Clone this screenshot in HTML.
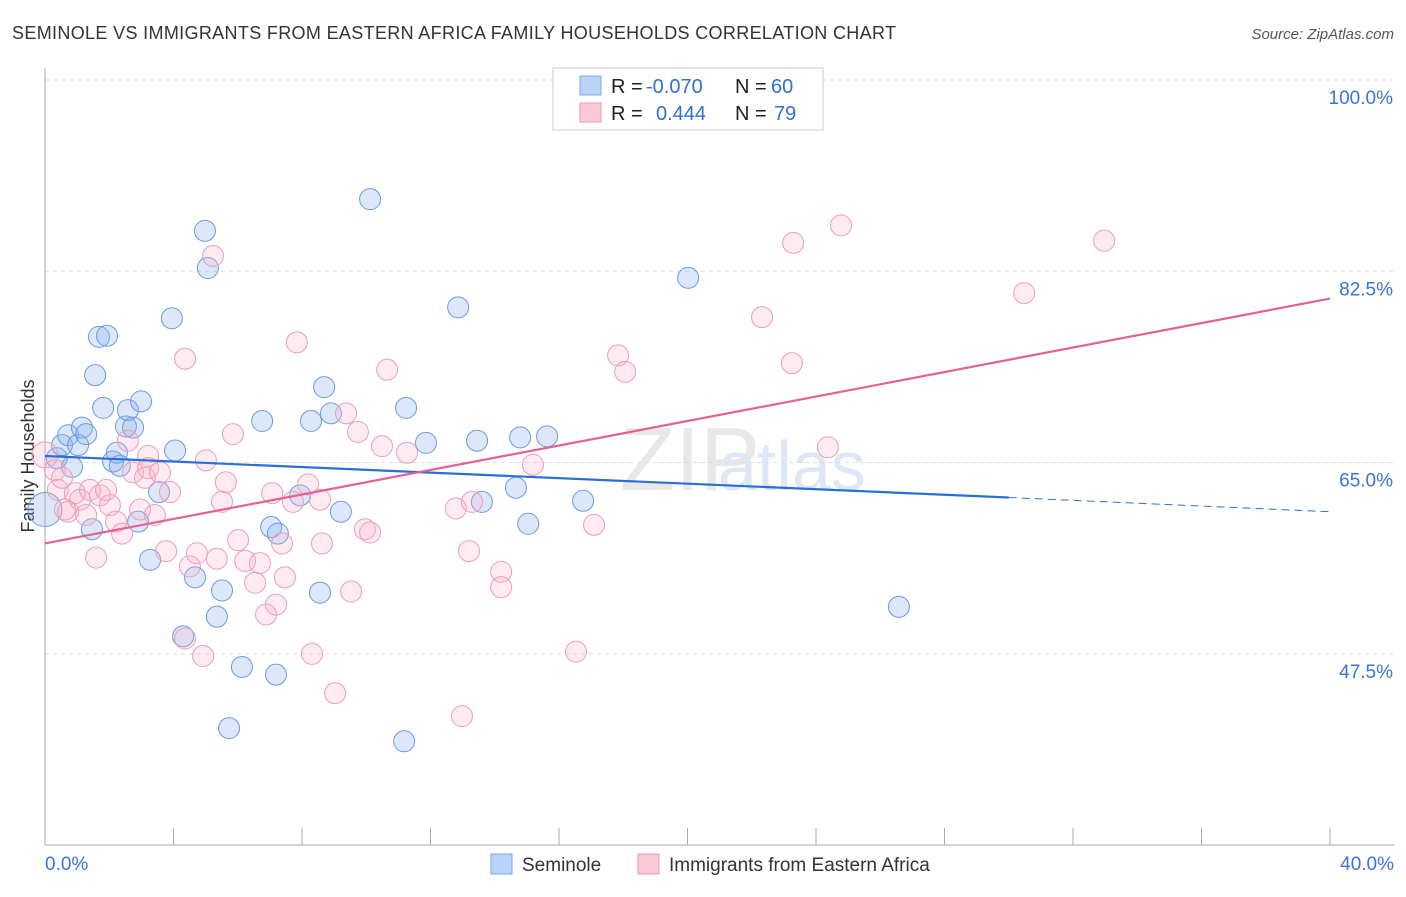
<!DOCTYPE html>
<html><head><meta charset="utf-8"><style>
body{margin:0;background:#fff;font-family:"Liberation Sans",sans-serif}
svg text{font-family:"Liberation Sans",sans-serif}
</style></head><body>
<svg id="c" width="1406" height="892">
<text x="12" y="39" font-size="18" fill="#333" textLength="884">SEMINOLE VS IMMIGRANTS FROM EASTERN AFRICA FAMILY HOUSEHOLDS CORRELATION CHART</text>
<text x="1394" y="39" font-size="15" fill="#555" font-style="italic" text-anchor="end">Source: ZipAtlas.com</text>
<text x="34" y="456" font-size="18" fill="#333" text-anchor="middle" transform="rotate(-90 34 456)">Family Households</text>
<text x="620" y="490" font-size="90" fill="#e8e8e8" font-family="Liberation Serif">ZIP</text>
<text x="718" y="490" font-size="70" fill="#dde7f5">atlas</text>
<g id="grid"></g><g id="pts"></g><g id="lines"></g>
<g>
<rect x="553" y="68" width="270" height="62" fill="#fff" stroke="#ccc"/>
<rect x="580" y="76" width="21" height="19" fill="#b8d3f5" stroke="#7aa8e6"/>
<rect x="580" y="103" width="21" height="19" fill="#fcc8d6" stroke="#eb9ab4"/>
<text x="611" y="93" font-size="20" fill="#222">R =</text>
<text x="646" y="93" font-size="20" fill="#3070d0">-0.070</text>
<text x="735" y="93" font-size="20" fill="#222">N =</text>
<text x="771" y="93" font-size="20" fill="#3070d0">60</text>
<text x="611" y="120" font-size="20" fill="#222">R =</text>
<text x="656" y="120" font-size="20" fill="#3070d0">0.444</text>
<text x="735" y="120" font-size="20" fill="#222">N =</text>
<text x="774" y="120" font-size="20" fill="#3070d0">79</text>
</g>
<g>
<rect x="491" y="854" width="21" height="20" fill="#b8d3f5" stroke="#7aa8e6"/>
<text x="522" y="871" font-size="19" fill="#333">Seminole</text>
<rect x="638" y="854" width="21" height="20" fill="#fcc8d6" stroke="#eb9ab4"/>
<text x="669" y="871" font-size="19" fill="#333">Immigrants from Eastern Africa</text>
</g>
</svg>
<script>
const yTicks=[100,82.5,65,47.5];
const yTickLabels=["100.0%","82.5%","65.0%","47.5%"];
const xTickLabels=["0.0%","40.0%"];
const blueX=[0,0.37,0.53,0.72,0.84,1.03,1.15,1.28,1.46,1.56,1.68,1.81,1.93,2.12,2.24,2.33,2.52,2.58,2.74,2.99,2.90,3.27,3.55,3.95,4.05,4.30,4.67,4.98,5.07,5.35,5.51,5.73,6.13,6.76,7.04,7.19,7.25,7.94,8.28,8.56,8.69,8.90,9.21,10.12,11.18,11.24,11.86,12.86,13.45,13.60,14.66,14.79,15.04,15.63,16.75,20.02,26.58];
const blueY=[60.7,65.4,66.6,67.5,64.6,66.6,68.2,67.6,58.9,73.0,76.5,70.0,76.6,65.1,65.9,64.7,68.3,69.8,68.2,70.6,59.6,56.1,62.3,78.2,66.1,49.1,54.5,86.2,82.8,50.9,53.3,40.7,46.3,68.8,59.1,45.6,58.5,62.0,68.8,53.1,71.9,69.5,60.5,89.1,39.5,70.0,66.8,79.2,67.0,61.4,62.7,67.3,59.4,67.4,61.5,81.9,51.8];
const pinkX=[0,0.31,0.40,0.53,0.62,0.72,0.93,1.09,1.28,1.40,1.59,1.71,1.90,2.02,2.21,2.40,2.58,2.74,2.96,3.11,3.21,3.21,3.42,3.58,3.77,3.89,4.36,4.36,4.51,4.73,4.92,5.01,5.23,5.35,5.51,5.63,5.85,6.01,6.23,6.54,6.69,6.88,7.07,7.19,7.38,7.47,7.72,7.84,8.19,8.31,8.62,8.56,9.03,9.37,9.53,9.74,9.96,10.12,10.49,10.65,11.27,12.79,12.98,13.20,13.29,14.20,14.20,15.19,16.53,17.09,17.84,18.06,22.32,23.25,23.29,24.37,24.78,30.48,32.97];
const pinkY=[65.7,64.3,62.5,63.6,60.7,60.5,62.2,61.6,60.2,62.5,56.3,62.0,62.5,61.1,59.6,58.5,67.0,64.1,60.7,63.6,65.6,64.5,60.2,64.1,56.9,62.3,74.5,48.9,55.5,56.7,47.3,65.2,83.9,56.2,61.4,63.2,67.6,57.9,56.0,54.0,55.8,51.1,62.2,52.0,57.6,54.5,61.4,76.0,63.0,47.5,57.6,61.6,43.9,69.5,53.2,67.8,58.9,58.6,66.5,73.5,65.9,60.8,41.8,56.9,61.4,55.0,53.6,64.8,47.7,59.3,74.8,73.3,78.3,74.1,85.1,66.4,86.7,80.5,85.3];
const blueTrend=[65.6,61.8,60.5]; // at x=0, 30, 40
const pinkTrend=[57.6,80.0]; // at x=0, 40
const X=v=>45+v/40*1285, Y=v=>80+(100-v)*10.93;
const NS="http://www.w3.org/2000/svg";
function mk(t,a,p){const e=document.createElementNS(NS,t);for(const k in a)e.setAttribute(k,a[k]);p.appendChild(e);return e;}
const grid=document.getElementById('grid');
yTicks.forEach((t,i)=>{
 const l=mk('line',{x1:45,x2:1394,y1:Y(t),y2:Y(t),stroke:'#ddd','stroke-dasharray':'4,4'},grid);
 
 
 const tx=mk('text',{x:1393,y:Y(t)+24,'font-size':19,fill:'#3b74d2','text-anchor':'end'},grid);
 tx.textContent=yTickLabels[i];
 
 
});
const ax=mk('line',{x1:45,x2:45,y1:68,y2:845,stroke:'#aaa'},grid);


const bx=mk('line',{x1:45,x2:1394,y1:845,y2:845,stroke:'#aaa'},grid);


for(let i=0;i<=10;i++){const tk=mk('line',{x1:X(i*4),x2:X(i*4),y1:828,y2:845,stroke:'#aaa'},grid);
 
 }
[[0,'start',45],[40,'end',1394]].forEach((d,i)=>{const t=mk('text',{x:d[2],y:870,'font-size':19,fill:'#3b74d2','text-anchor':d[1]},grid);t.textContent=xTickLabels[i];
 
 });
const pts=document.getElementById('pts');
blueX.forEach((x,i)=>{const c=mk('circle',{cx:X(x),cy:Y(blueY[i]),r:i==0?17:10.5,fill:'rgba(140,180,240,0.3)',stroke:'#6a9ae0','stroke-width':1},pts);
 
 });
pinkX.forEach((x,i)=>{const c=mk('circle',{cx:X(x),cy:Y(pinkY[i]),r:i==0?13:10.5,fill:'rgba(248,175,200,0.25)',stroke:'#ec9db8','stroke-width':1},pts);
 
 });
const lg=document.getElementById('lines');
let l1=mk('line',{x1:X(0),y1:Y(blueTrend[0]),x2:X(30),y2:Y(blueTrend[1]),stroke:'#2a6fd6','stroke-width':2.2},lg);


let l2=mk('line',{x1:X(30),y1:Y(blueTrend[1]),x2:X(40),y2:Y(blueTrend[2]),stroke:'#2a6fd6','stroke-width':1,'stroke-dasharray':'8,5'},lg);


let l3=mk('line',{x1:X(0),y1:Y(pinkTrend[0]),x2:X(40),y2:Y(pinkTrend[1]),stroke:'#e4628f','stroke-width':2.2},lg);


</script>
</body></html>
